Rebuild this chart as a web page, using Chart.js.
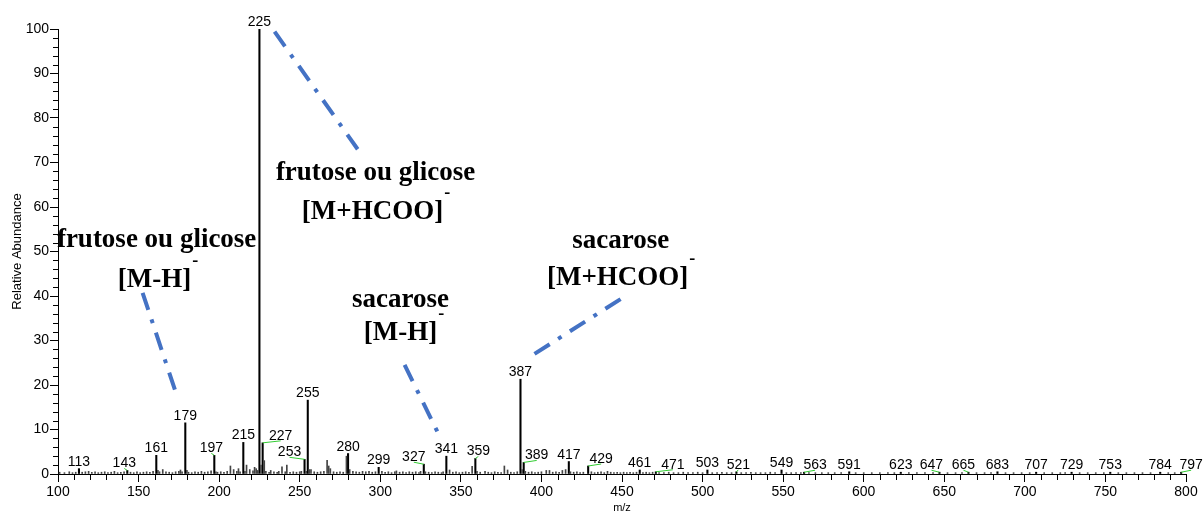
<!DOCTYPE html>
<html>
<head>
<meta charset="utf-8">
<script src="https://cdn.jsdelivr.net/npm/chart.js@4"></script>
<style>body{margin:0;background:#fff}</style>
</head>
<body>
<canvas id="spec" width="1204" height="515"></canvas>
<script>
// labelled peaks (m/z, relative abundance)
const peakMz = [113, 143, 161, 179, 197, 215, 225, 227, 253, 255, 280, 299, 327, 341, 359, 387, 389, 417, 429,
  461, 471, 503, 521, 549, 563, 591, 623, 647, 665, 683, 707, 729, 753, 784, 797];
const peakAbundance = [1.2, 0.8, 4.2, 11.5, 4.2, 7.1, 100, 7.0, 3.3, 16.6, 4.6, 1.5, 2.2, 4.0, 3.5, 21.3, 2.6, 2.8, 1.8,
  0.9, 0.5, 0.9, 0.5, 0.9, 0.4, 0.5, 0.4, 0.4, 0.4, 0.5, 0.4, 0.4, 0.4, 0.4, 0.4];

// unlabelled small peaks [m/z, abundance]
const minorPeaks = [
  [101,0.4],[104,0.3],[107,0.5],[109,0.3],[111,0.4],[115,0.4],[117,0.5],[119,0.6],[121,0.4],[123,0.5],
  [125,0.3],[127,0.4],[129,0.5],[131,0.3],[133,0.4],[135,0.6],[137,0.3],[139,0.4],[141,0.5],[145,0.4],
  [147,0.3],[149,0.5],[151,0.3],[153,0.4],[155,0.5],[157,0.4],[159,0.6],[162,0.8],[163,0.5],[165,1.0],
  [167,0.5],[169,0.4],[171,0.3],[173,0.5],[175,0.6],[176,0.9],[177,0.5],[180,0.8],[181,0.4],[183,0.3],
  [185,0.5],[187,0.4],[189,0.6],[191,0.4],[193,0.5],[195,0.7],[198,0.5],[199,0.4],[201,0.5],[203,0.4],
  [205,0.6],[207,1.8],[209,1.0],[211,0.6],[212,1.2],[213,0.5],[216,0.6],[217,2.0],[219,1.0],[221,0.7],
  [222,1.5],[223,1.2],[224,0.8],[226,2.0],[228,3.0],[229,0.6],[231,0.4],[232,0.8],[234,0.5],[236,0.4],
  [237,0.6],[239,1.6],[241,0.5],[242,2.0],[244,0.4],[246,0.5],[248,0.4],[250,0.5],[251,0.6],[254,0.6],
  [256,1.0],[257,1.0],[259,0.5],[261,0.4],[263,0.5],[265,0.6],[267,3.1],[268,1.8],[269,1.2],[271,0.5],
  [273,0.4],[275,0.5],[277,0.4],[279,4.0],[281,1.0],[283,0.6],[285,0.5],[287,0.4],[289,0.6],[291,0.5],
  [293,0.6],[295,0.4],[297,0.5],[301,0.6],[303,0.4],[305,0.5],[307,0.3],[309,0.5],[310,0.7],[312,0.4],
  [314,0.5],[316,0.3],[318,0.5],[320,0.4],[322,0.5],[324,0.3],[325,0.6],[328,0.5],[330,0.4],[332,0.3],
  [334,0.5],[336,0.4],[338,0.3],[339,0.5],[343,0.9],[345,0.4],[347,0.5],[349,0.3],[351,0.4],[353,0.5],
  [355,0.4],[357,1.7],[360,0.6],[362,0.4],[365,0.6],[367,0.4],[369,0.3],[371,0.5],[373,0.4],[375,0.3],
  [377,1.8],[379,0.9],[381,0.4],[383,0.3],[385,0.5],[388,1.0],[390,0.6],[392,0.4],[394,0.5],[396,0.3],
  [398,0.4],[400,0.5],[403,0.8],[405,0.8],[407,0.4],[409,0.5],[411,0.4],[413,0.8],[415,1.0],[418,0.5],
  [420,0.4],[422,0.5],[424,0.3],[426,0.4],[431,0.5],[433,0.3],[435,0.4],[437,0.5],[439,0.3],[441,0.6],
  [443,0.4],[445,0.3],[447,0.4],[449,0.3],[451,0.4],[453,0.3],[455,0.4],[457,0.3],[459,0.4],[463,0.3],
  [465,0.4],[467,0.3],[469,0.4],[473,0.3],[476,0.3],[479,0.4],[482,0.3],[485,0.3],[488,0.4],[491,0.3],
  [494,0.3],[497,0.4],[500,0.3],[506,0.3],[509,0.3],[512,0.4],[515,0.3],[518,0.3],[524,0.3],[527,0.3],
  [530,0.4],[533,0.3],[536,0.3],[539,0.3],[542,0.4],[545,0.3],[552,0.3],[555,0.3],[558,0.3],[561,0.3],
  [566,0.3],[570,0.3],[574,0.3],[578,0.3],[582,0.3],[586,0.3],[595,0.3],[600,0.3],[605,0.3],[610,0.3],
  [615,0.3],[619,0.3],[628,0.3],[633,0.3],[638,0.3],[643,0.3],[652,0.3],[657,0.3],[661,0.3],[670,0.3],
  [675,0.3],[679,0.3],[688,0.3],[693,0.3],[698,0.3],[703,0.3],[712,0.3],[717,0.3],[722,0.3],[725,0.3],
  [734,0.3],[739,0.3],[744,0.3],[749,0.3],[758,0.3],[763,0.3],[768,0.3],[773,0.3],[778,0.3],[789,0.3],
  [793,0.3]
];

// annotations, in data units (m/z, abundance)
const annotations = [
  { text: ['frutose ou glicose', '[M-H]'], at: [[161.2, 52.6], [159.9, 43.6]], line: [[152.5, 40.7], [173.6, 17.8]] },
  { text: ['frutose ou glicose', '[M+HCOO]'], at: [[297.1, 67.6], [295.2, 58.9]], line: [[234.4, 99.4], [287.1, 72.4]] },
  { text: ['sacarose', '[M-H]'], at: [[312.6, 39.1], [312.6, 31.7]], line: [[315.1, 24.5], [335.6, 9.4]] },
  { text: ['sacarose', '[M+HCOO]'], at: [[449.2, 52.4], [447.3, 44.0]], line: [[395.7, 27.0], [450.4, 39.6]] }
];

// px shift of some peak labels (joined to the peak by a green line)
const labelShift = {143: -3, 197: -3, 227: 18, 253: -15, 327: -10, 359: 3, 389: 13, 429: 13, 471: 17,
  521: 2, 563: 11, 647: -8, 665: -5, 797: 10};

const sans = '"Liberation Sans", Arial, Helvetica, sans-serif';
const serifBold = 'bold 27px "Liberation Serif", "Times New Roman", serif';

const peakLabels = {
  id: 'peakLabels',
  afterDatasetsDraw(chart) {
    const {ctx, scales: {x, y}} = chart;
    ctx.save();
    ctx.font = '14px ' + sans;
    ctx.textAlign = 'center';
    ctx.textBaseline = 'alphabetic';
    peakMz.forEach((mz, i) => {
      const px = x.getPixelForValue(mz);
      const top = y.getPixelForValue(peakAbundance[i]);
      const dx = labelShift[mz] || 0;
      const base = top - 3;
      if (dx) {
        ctx.strokeStyle = '#3c3';
        ctx.lineWidth = 1;
        ctx.beginPath();
        ctx.moveTo(px, top);
        ctx.lineTo(px + dx, base + 1);
        ctx.stroke();
      }
      ctx.fillStyle = '#000';
      ctx.fillText(String(mz), px + dx, base);
    });
    ctx.restore();
  }
};

const notes = {
  id: 'notes',
  afterDatasetsDraw(chart) {
    const {ctx, scales: {x, y}} = chart;
    ctx.save();
    annotations.forEach(a => {
      ctx.strokeStyle = '#4472c4';
      ctx.lineWidth = 4;
      ctx.setLineDash([18, 10, 4, 10]);
      ctx.beginPath();
      ctx.moveTo(x.getPixelForValue(a.line[0][0]), y.getPixelForValue(a.line[0][1]));
      ctx.lineTo(x.getPixelForValue(a.line[1][0]), y.getPixelForValue(a.line[1][1]));
      ctx.stroke();
      ctx.setLineDash([]);
      ctx.fillStyle = '#000';
      ctx.textAlign = 'center';
      ctx.textBaseline = 'middle';
      ctx.font = serifBold;
      a.text.forEach((t, k) => {
        const tx = x.getPixelForValue(a.at[k][0]);
        const ty = y.getPixelForValue(a.at[k][1]);
        ctx.fillText(t, tx, ty);
        if (k === 1) {
          const w = ctx.measureText(t).width;
          ctx.font = 'bold 18px "Liberation Serif", serif';
          ctx.fillText('-', tx + w / 2 + 4, ty - 19);
          ctx.font = serifBold;
        }
      });
    });
    ctx.restore();
  }
};

const minorTicks = {
  id: 'minorTicks',
  afterDraw(chart) {
    const {ctx, chartArea, scales: {x, y}} = chart;
    ctx.save();
    ctx.strokeStyle = '#000';
    ctx.lineWidth = 1;
    ctx.beginPath();
    for (let v = 0; v <= 100; v += 2) {
      if (v % 10 === 0) continue;
      const py = Math.round(y.getPixelForValue(v)) + 0.5;
      ctx.moveTo(chartArea.left - 5, py);
      ctx.lineTo(chartArea.left, py);
    }
    for (let v = 100; v <= 800; v += 10) {
      if (v % 50 === 0) continue;
      const px = Math.round(x.getPixelForValue(v)) + 0.5;
      ctx.moveTo(px, chartArea.bottom);
      ctx.lineTo(px, chartArea.bottom + 6);
    }
    ctx.stroke();
    ctx.restore();
  }
};

new Chart(document.getElementById('spec'), {
  type: 'bar',
  data: {
    datasets: [
      {
        data: minorPeaks.map(p => ({x: p[0], y: p[1]})),
        backgroundColor: '#444',
        barThickness: 1,
        grouped: false
      },
      {
        data: peakMz.map((m, i) => ({x: m, y: peakAbundance[i]})),
        backgroundColor: '#000',
        barThickness: 1.4,
        grouped: false
      }
    ]
  },
  options: {
    responsive: false,
    animation: false,
    devicePixelRatio: 1,
    layout: {padding: {top: 29, right: 18, left: 0, bottom: 0}},
    plugins: {legend: {display: false}, tooltip: {enabled: false}},
    scales: {
      x: {
        type: 'linear',
        min: 100,
        max: 800,
        offset: false,
        afterFit(s) { s.height = 41; },
        ticks: {stepSize: 50, autoSkip: false, maxRotation: 0, color: '#000', padding: 2, font: {family: sans, size: 14}},
        grid: {drawOnChartArea: false, tickLength: 8, color: '#000', offset: false},
        border: {color: '#000'},
        title: {display: true, text: 'm/z', color: '#000', font: {family: sans, size: 11}, padding: {top: 0, bottom: 0}}
      },
      y: {
        min: 0,
        max: 100,
        afterFit(s) { s.width = 58; },
        ticks: {stepSize: 10, color: '#000', padding: 1, font: {family: sans, size: 14}},
        grid: {drawOnChartArea: false, tickLength: 8, color: '#000'},
        border: {color: '#000'},
        title: {display: true, text: 'Relative Abundance', color: '#000', font: {family: sans, size: 13}, padding: {top: 10, bottom: 0}}
      }
    }
  },
  plugins: [peakLabels, notes, minorTicks]
});
</script>
</body>
</html>
